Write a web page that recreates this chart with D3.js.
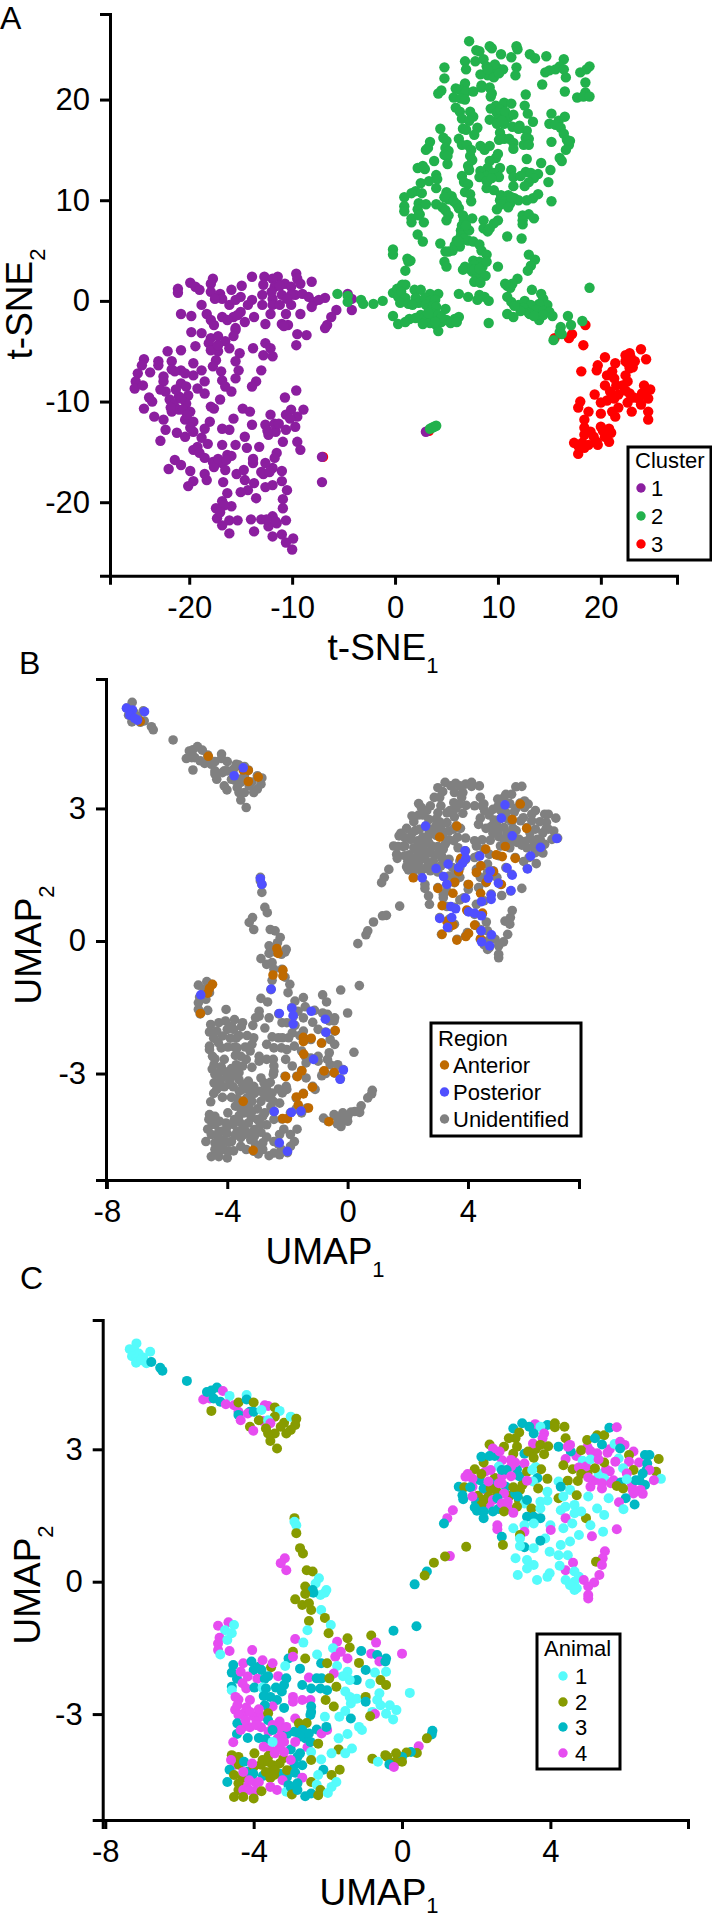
<!DOCTYPE html>
<html>
<head>
<meta charset="utf-8">
<style>
  body { margin: 0; background: #fff; }
  svg { display: block; }
  text { font-family: "Liberation Sans", Arial, sans-serif; fill: #000; }
</style>
<script src="https://cdn.jsdelivr.net/npm/d3@7"></script>
</head>
<body>
<svg id="fig"></svg>
<script>
// values: t-SNE points per cluster
const tsneCluster3 = [[18.5,-2.4],[17.2,-3.3],[16.9,-3.7],[18.3,-4.4],[15.5,-3.7],[20.4,-5.6],[19.7,-6.4],[19.6,-6.9],[18.1,-7],[23.9,-4.8],[22.8,-5.2],[22.4,-5.4],[24.4,-5.8],[22.4,-6],[23.3,-6],[21.4,-6.2],[22.8,-6.7],[21.1,-7],[22.4,-7.4],[20.6,-7.4],[21.3,-7.7],[22.6,-8],[20.4,-8.4],[21.5,-8.4],[24.2,-8.4],[24.8,-8.8],[22.4,-8.9],[20.9,-9],[24.4,-9],[22.8,-9.2],[19.4,-9.3],[23.7,-9.7],[24.6,-9.7],[21.3,-9.7],[20.6,-9.9],[20,-10.1],[22.6,-10.1],[21.7,-10.6],[23.9,-10.3],[24.6,-11],[23,-11],[17.8,-10.6],[18,-10],[18.8,-11],[20,-11.2],[21.1,-11],[21.4,-11.5],[24.6,-11.8],[18.4,-11.8],[18.4,-12.6],[20,-12.5],[20.8,-12.7],[21,-13.1],[18.4,-13.3],[19.3,-13.5],[20.4,-13.5],[17.4,-14.1],[18.2,-14.1],[18.8,-14.3],[19.7,-14.3],[20.8,-14],[17.8,-15.2],[18.4,-14.6],[17.8,-14.4],[3.3,-12.9],[-7,-15.5],[22.9,-5.6],[22.7,-6.3],[23.1,-6.6],[22.1,-8.4],[23.2,-9.6],[24,-9.2],[21.7,-9.3],[19,-13],[19.6,-14],[20.2,-12.9]];

const tsneCluster1 = [[-9.6,2.7],[-9.5,2.2],[-13.9,2.4],[-12.7,2.4],[-11.4,2.4],[-11.9,2.2],[-10.7,1.7],[-9.2,1.7],[-8.1,1.9],[-17.7,2.2],[-17.9,1.7],[-19.9,1.8],[-19.4,1.4],[-21.1,1.2],[-21.1,0.8],[-19,1.1],[-17.9,0.9],[-17,0.7],[-15.9,1.1],[-14.9,1.5],[-16.8,0.2],[-12.9,0.6],[-12.8,1.6],[-11.7,1.4],[-11.2,1.5],[-10.1,1.4],[-9.7,0.6],[-9,0.7],[-8.4,0.4],[-7.9,-0.1],[-6.8,0.3],[-7.4,0.1],[-4.6,0.7],[-4.2,0.2],[-4.2,-0.9],[-5.7,-0.9],[-6.2,-1.6],[-6.6,-2.4],[-6.8,-2.7],[-11,0.6],[-11.9,0.2],[-10.1,0.6],[-15,0.4],[-13.9,0.1],[-14.3,-0.4],[-16.1,-0.4],[-11.9,-0.4],[-11.2,-0.4],[-12.1,-1.3],[-10.1,-0.4],[-10.6,-1.3],[-9.2,-1.3],[-8.1,-0.6],[-18.8,-0.4],[-20.8,-1.3],[-19.8,-1.5],[-18.3,-1.3],[-17.9,-1.9],[-16.8,-1.6],[-15.7,-1.6],[-15,-1.1],[-13.7,-1.6],[-14.6,-2.1],[-12.6,-2.3],[-11,-2.3],[-10.4,-2.4],[-17.6,-2.4],[-15.5,-2.7],[-15.5,-2.9],[-15.7,-3.5],[-19.8,-3.1],[-18.8,-3.2],[-17.9,-3.7],[-17.2,-3.5],[-16.5,-4],[-16.1,-4.7],[-17.2,-5],[-17.4,-5.9],[-18.1,-4.2],[-9.5,-3.3],[-8.6,-3.4],[-9.6,-4.4],[-10.8,-2.5],[-12.6,-4.2],[-13.8,-4.7],[-12.1,-4.7],[-12.8,-5.4],[-11.9,-5.5],[-15.1,-5.2],[-15.5,-6],[-15.2,-6.9],[-15.5,-7.7],[-13,-6.9],[-13.5,-8],[-13.9,-8.5],[-19.4,-4.5],[-20.8,-4.9],[-22.1,-5],[-24.4,-5.8],[-24.6,-6.4],[-23,-6],[-23,-6.4],[-23.8,-7.1],[-25,-7.2],[-25.2,-8],[-25.3,-8.7],[-24.5,-8.4],[-21.7,-6],[-21.7,-6.8],[-20.8,-6.9],[-19.6,-6.2],[-19.6,-7.4],[-18.8,-6.9],[-18.5,-8],[-17.7,-6.5],[-16.9,-7],[-16.8,-7.9],[-15.9,-9],[-16.5,-8.5],[-22.5,-8],[-20.8,-8.2],[-20.3,-8.5],[-19.2,-8.7],[-18.5,-9.2],[-23.9,-9.6],[-23.6,-10],[-24.4,-10.7],[-22.3,-9],[-21.9,-9.8],[-21,-9.5],[-20.1,-9.4],[-21.5,-10.3],[-20.3,-10.2],[-21.7,-11],[-21,-10.8],[-19.9,-11],[-23.4,-11.5],[-22.5,-11.8],[-22.3,-12.8],[-20.4,-11.8],[-19.6,-12],[-21.2,-13.1],[-20.4,-13.5],[-19.6,-13],[-22.8,-13.9],[-17.9,-10.5],[-17,-9.8],[-17.6,-10.7],[-18,-12],[-18.5,-12.7],[-16.8,-12.7],[-16.1,-12.8],[-15.7,-11.7],[-14.8,-10.7],[-14.1,-11],[-13.9,-12.3],[-14.6,-13.5],[-15.5,-14.3],[-14.4,-14.6],[-16.8,-14.3],[-18.8,-13.6],[-19.2,-14.5],[-19.6,-14.8],[-19,-15.1],[-18.5,-15.6],[-17.7,-16],[-16.8,-16.1],[-16.3,-15.3],[-15.9,-15.4],[-16.5,-16.8],[-15.4,-17.2],[-17.6,-16.5],[-18.5,-17.2],[-18.3,-17.8],[-19.9,-16.9],[-21.4,-15.8],[-20.8,-16.3],[-22,-16.7],[-19.6,-17.9],[-20.1,-18.4],[-16.7,-18],[-14.6,-17.8],[-14.7,-16.8],[-13.7,-18.1],[-14.3,-18.8],[-15,-19],[-16.3,-19.1],[-13.5,-19.6],[-16.8,-19.9],[-15.9,-20.4],[-17.4,-20.6],[-17.3,-21.6],[-16.8,-22.3],[-16.1,-23.1],[-16.1,-21.8],[-15.3,-21.8],[-14,-21.7],[-13,-21.7],[-11.9,-21.4],[-11.5,-22.1],[-10.6,-21.8],[-12.3,-22.4],[-13.7,-22.9],[-11.9,-23.4],[-11,-23.2],[-9.9,-23.6],[-10.6,-24],[-10,-24.7],[-10.9,-20.6],[-10.9,-19.7],[-10.5,-18.8],[-11,-17.9],[-11.9,-18.3],[-12.6,-18.5],[-11,-16.9],[-11.9,-16.6],[-12.8,-17.2],[-13.8,-16.1],[-12.6,-16.1],[-11.5,-15.1],[-13.8,-15.7],[-11.7,-15.6],[-13.2,-14.5],[-12.3,-13.3],[-11.6,-13],[-12.6,-12.3],[-12.1,-11.3],[-11.7,-12.2],[-10.9,-14],[-10.6,-12.8],[-9.7,-12.5],[-10.6,-11.3],[-10.1,-10.8],[-9.5,-11.5],[-8.9,-10.8],[-10.7,-9.6],[-9.6,-8.9],[-9.5,-14],[-9.2,-14.8],[-7.1,-15.5],[-7.1,-18],[3,-13],
[-21.3,-8.8],[-20.8,-9.7],[-20.6,-10.8],[-20.2,-11.3],[-19.9,-12.6],[-18.2,-14.2],[-17.2,-15.7],[-16.4,-15.8],[-17.9,-4.9],[-17.2,-4.4],[-12.4,-12.9],[-11.3,-12.2],[-10.2,-11.7],[-12.9,-0.4],[-12,0.9],[-10.5,0.2],[-15.5,0.1],[-17.5,0.2],[-16.3,-1.9],[-15.3,-1.4],[-13,-17],[-12.2,-17],[-11.6,-21.9],[-12.5,-21.7],[-16.6,-20.3],[-17,-21],[-22.8,-8.8],[-22.5,-7.5],[-21.4,-7],[-20.4,-7.2],[-21.8,-10.6]];

const tsneCluster2 = [[7.2,25.8],[7.9,24.9],[8.2,24.8],[9.2,25.3],[9.4,25.1],[11.8,25.3],[11.9,25],[13.1,24.5],[13.6,24.1],[14.7,24.3],[10.3,24.5],[11.3,24.2],[6.8,23.8],[7.8,23.8],[8.6,24],[4.8,23.2],[6.9,23],[8.9,23.3],[9.4,22.8],[10,23.1],[10.5,23],[9,22.4],[8.3,22.5],[9.6,22.2],[8.4,21.4],[11.8,23.2],[11.7,22.4],[16.4,24],[16,23.3],[15.6,23],[15,22.9],[14.6,22.7],[16.4,23],[16.6,22.2],[18.9,23.3],[18.6,23],[18,22.7],[18.5,21.7],[4.8,22.1],[14.3,21.5],[6.8,21.6],[6.3,21],[5.9,21.1],[4.5,20.9],[4.2,20.6],[6.9,20.8],[7.6,20.8],[8.4,21.2],[9.2,21.2],[9.4,20.6],[9.3,20.3],[16.5,20.8],[18.5,20.7],[17.7,20.2],[18.3,20.3],[18.9,20.3],[5.7,20.2],[6.4,20.1],[6.8,20],[12.7,20.5],[9.8,19.4],[10.6,19.7],[11.3,19.6],[12.6,19.4],[5.9,19.2],[6.3,18.8],[7.3,18.8],[7.6,18.3],[6.5,18.1],[7.2,17.9],[9.3,19.1],[9.9,18.7],[10.3,18.4],[10.5,18.1],[10,18],[11,18.2],[9.2,18],[12.9,18.6],[9.9,17.6],[10.6,17.6],[11.4,17.3],[12.1,17.4],[12,17.1],[13.4,17.8],[15.2,18.6],[15.9,17.9],[16.5,18.3],[15,17.6],[15.6,17.5],[16.1,17.2],[16.4,16.6],[16.7,16],[17,15.9],[16.9,15.5],[16.6,15],[4.4,17.1],[6.6,17.1],[6.9,17],[8,17.2],[7.7,16.5],[10.2,16.7],[12.8,16.9],[10.1,16],[10.6,16.1],[11.1,16.1],[11.5,15.7],[12.7,16.2],[13,16.1],[12.5,15.5],[13,15.5],[15.2,15.8],[4.7,16.2],[5,15.9],[6.2,16.1],[6.5,15.5],[3.4,15.8],[3.2,15.2],[3,15],[4.9,15.2],[5.2,14.9],[7,15.5],[7.4,15],[8.3,15.4],[8.7,15],[9.2,15.4],[11.5,15.1],[4.8,14.5],[5.1,14.4],[7.3,14.4],[7.5,14],[3.8,13.9],[5.1,13.6],[9.8,14.2],[10,14.6],[9.2,13.9],[12.8,14.1],[16,14.2],[16.2,13.9],[14.2,13.7],[2.2,13.2],[2.7,13.4],[2.9,13.1],[7.1,13.4],[7.2,13],[9,13.2],[10.2,13.2],[15.1,13],[8.3,12.9],[8.9,12.4],[9.6,12.7],[10.1,12.3],[11.3,13],[12.7,12.8],[13.2,12.7],[13.9,12.6],[4,12.5],[4.1,12.1],[6.5,12.4],[8.2,12.3],[9,11.9],[11.5,12.3],[12.2,12.4],[13.5,12.2],[13,11.8],[3.3,11.9],[2.5,11.7],[6.7,11.8],[7.1,11.6],[8.9,11.2],[9.6,11],[11.5,11.4],[12.6,11.4],[14.9,11.8],[4,11.2],[2,10.9],[2.6,10.7],[0.9,10.3],[1.6,10.7],[6.8,10.8],[7.3,10.6],[5,10.8],[5.5,10.4],[5.2,10.1],[4.8,10.3],[5.7,9.9],[7.4,9.9],[10.3,10.5],[11,10.5],[11.6,10.2],[10.2,10],[10.6,9.9],[11.2,9.7],[12,10],[13.4,10.2],[13.9,10.6],[12.8,10],[15.2,9.9],[2.3,9.7],[3,9.6],[0.9,9.4],[0.9,8.9],[2.2,9.1],[2.4,8.6],[4,9.6],[4.6,9.3],[4.9,9],[6,9.6],[6.2,9.2],[9.9,9.1],[10.3,9.6],[12.4,8.5],[13,8.6],[13.5,8.2],[1.6,8.2],[2.3,8.5],[1.6,7.8],[2.8,7.8],[5.2,8.5],[5,8],[6.6,8.5],[6.7,8],[7.5,8.2],[8.6,8],[10,8],[9.6,7.7],[12.4,8],[12.4,7.6],[6.5,7.5],[6.4,7],[8.6,7.2],[9,6.9],[9.2,7.2],[6.7,6.9],[7.2,7],[6.4,6.5],[2.2,6.6],[2.7,5.9],[6,6],[6.6,6.1],[7.1,6],[7.6,5.9],[10.9,6.4],[12.3,6.2],[4.4,5.7],[5.8,5.5],[6.3,5.4],[8.2,5.6],[-0.2,5.1],[-0.2,4.6],[5.6,5],[5.2,4.9],[4.9,4.9],[8.4,5],[8.9,4.6],[7.6,4],[1.2,4.2],[1.5,4],[4.8,3.9],[13,4.6],[13.6,4.1],[8.2,3.9],[7.7,3.6],[8.5,3.4],[8.9,3.9],[5,3.4],[1.3,3.9],[1,3],[10,3.4],[6.8,3.4],[7.2,3.2],[6.6,3.1],[13.2,3.5],[12.9,3],[7.5,2.9],[8,2.7],[7.9,2.2],[8.8,2.5],[7.7,1.9],[8.3,1.8],[11.9,2.2],[11.4,1.7],[1,1.6],[0.5,1.3],[0.2,0.9],[10.9,1.5],[11.2,1.3],[18.9,1.3],[-0.2,0.8],[0.2,1.2],[0.7,1.6],[0.3,0.4],[0.6,0.9],[1,0.3],[0.5,-0.2],[1.3,-0.3],[1.9,1.1],[2.5,1.1],[2,0.3],[2.3,-0.2],[1.7,-0.4],[3.4,0.7],[4.2,0.7],[2.9,0.3],[3.4,0],[3,-0.4],[3.9,0.1],[3.3,-0.7],[3.7,-0.5],[4,-0.6],[4.9,-0.8],[6.2,0.7],[7.1,0.4],[8.2,0.6],[8.7,0.4],[8,0.1],[9.1,0],[10.7,1.7],[10.9,0.4],[11.3,-0.1],[12,-0.4],[12.6,0],[13.3,1.1],[14.2,0.7],[14.4,0.2],[14.8,-0.4],[14,-0.3],[13.2,-0.4],[12.5,-0.7],[13.7,-0.9],[14.4,-1],[15,-1.1],[13,-1.2],[12.2,-1],[11.6,-0.5],[10.9,-1.3],[11.5,-1.6],[13.1,-1.3],[14,-1.9],[14.4,-1.4],[13.5,-1.5],[15.3,-1.5],[16.8,-1.5],[18.2,-2],[16.1,-2.6],[17.1,-2.4],[-0.2,-1.5],[0.3,-2.3],[1.4,-1.8],[2.5,-1.4],[2,-1.7],[2.9,-1.6],[3.5,-1.8],[3,-2],[3.4,-2.2],[4,-2.4],[4.5,-2.1],[3.9,-1.7],[3.6,-1.2],[4.2,-1.4],[5,-1.9],[5.8,-1.8],[6.2,-1.6],[5.4,-2.2],[6,-2.1],[2.7,-2.3],[1,-2.1],[4.2,-3],[9.1,-2.2],[16,-3.1],[16.2,-3.3],[15.4,-3.9],[-5.6,0.7],[-4.6,0.5],[-4.6,-0.1],[-3.3,0.1],[-3.1,-0.3],[-2.1,-0.3],[-1.2,0],[3.4,-12.7],[3.6,-12.6],[3.8,-12.5],[4,-12.4],
[9.7,23.5],[10.1,22.6],[9,23],[10.2,19],[10.7,18.8],[10.4,17.9],[11.5,18.5],[6.9,7.5],[6.7,6.2],[6.2,5.9],[8.9,11.9],[9.4,12.2],[11,9.3],[11.3,10.3],[4.5,-1.6],[3.2,-1.2],[3.9,-2.1],[7.7,3.1],[8.2,3.2]];

// UMAP cells as [UMAP1, UMAP2, animal]
const umapCells = [[-7.16,5.4,1],[-7.34,5.27,1],[-7.22,5.25,1],[-7.1,5.17,1],[-7.28,5.11,1],[-7.16,5.06,1],[-6.98,5.08,1],[-6.79,5.21,1],[-6.89,4.95,1],[-7.17,4.96,1],[-7.03,5.02,1],[-6.76,4.98,3],[-6.52,4.85,3],[-6.46,4.78,3],[-5.8,4.55,3],
[-5.36,4.13,4],[-5.18,4.15,4],[-5.26,4.3,3],[-5.14,4.33,3],[-4.99,4.4,3],[-4.83,4.32,4],[-5.08,4.15,3],[-4.9,4.08,3],[-4.65,4.21,1],[-5.14,3.87,2],[-4.75,4.02,4],[-4.53,4,4],[-4.41,3.85,4],[-4.41,3.78,3],[-4.35,3.66,4],[-4.41,4.06,2],[-4.19,4.23,1],[-4.19,4.13,3],[-4,4.06,2],[-4.1,3.85,3],[-4.16,3.81,4],[-4,3.85,3],[-4.1,3.51,2],[-4.01,3.42,4],[-3.7,4,4],[-3.61,3.98,4],[-3.79,3.89,1],[-3.76,3.64,4],[-3.86,3.66,2],[-3.43,3.95,2],[-3.3,3.87,1],[-3.43,3.74,2],[-3.61,3.66,1],[-3.55,3.59,4],[-3.18,3.6,2],[-3,3.74,1],[-2.85,3.69,2],[-2.88,3.55,2],[-3,3.44,2],[-3.12,3.36,2],[-3.27,3.51,2],[-3.43,3.36,2],[-3.61,3.36,2],[-3.55,3.19,2],[-3.37,3.02,2],[-3.67,3.47,2],
[1.9,2.15,4],[2.1,2.3,3],[2.25,2.5,4],[2.5,2.35,2],[2.7,2.4,4],[2.45,2.2,3],[2.55,2.05,2],[2.8,2.15,3],[2.9,1.95,2],[2.3,2.05,4],[2.05,1.95,2],[2,1.8,3],[2.35,1.75,4],[2.6,1.65,3],[2.9,1.65,4],[3.15,1.85,2],[3.05,2,3],[3.25,2.2,2],[3.1,2.55,3],[3.05,2.7,4],[3.3,2.9,3],[3,2.9,2],[2.7,2.75,4],[2.5,2.85,3],[3.6,2.6,1],[3.65,2.35,3],[3.75,2.55,2],[3.6,3,2],[5.6,2.5,4],[5.7,2.3,4],[5.9,2.25,3],[5.2,2.3,4],[4.6,2.55,2],[5,2.45,2],[5.3,2.45,1],[5.5,2.55,4],[6.2,2.2,4],[6.4,2.3,3],[6.6,2.55,3],[5.6,3,4],[5,3.05,4],[4.7,2.85,4],[4.55,2.95,3],
[3.24,3.59,3],[3,3.47,3],[3.59,3.57,4],[3.43,3.51,3],[3.92,3.55,3],[4.12,3.59,2],[4.12,3.5,2],[4.38,3.51,2],[3.73,3.51,1],[3.55,3.36,3],[3.83,3.36,4],[3.79,3.25,4],[3.16,3.38,2],[3.06,3.25,2],[2.88,3.25,2],[2.75,3.06,2],[3.1,3.06,2],[2.36,3.11,2],[2.63,2.95,4],[2.45,3.02,4],[3.53,3.13,4],[3.73,3.1,2],[3.94,3.07,2],[4.22,3.06,3],[4.41,3.25,2],[4.53,3.1,4],[4.47,3.06,4],[4.83,2.98,2],[4.99,3.21,2],[5.26,3.32,2],[5.45,3.32,2],[5.59,3.49,3],[5.79,3.5,4],[5.2,3.25,3],[5.39,3.11,3],[5.73,3.12,1],[5.88,3.17,4],[6,3.1,4],[5.88,3.02,3],[5.08,2.96,4],[5.26,2.91,4],[5.54,2.92,4],[6.24,2.95,4],[6.12,2.87,2],[5.84,2.79,1],[5.75,2.72,4],[6.55,2.87,3],[6.67,2.87,3],[6.92,2.78,2],[6.12,2.72,4],[6.39,2.7,4],[6.61,2.68,3],[6.24,2.53,2],[5.96,2.57,1],[6.85,2.49,2],[6.67,2.53,4],[6.49,2.45,3],[6.98,2.33,1],[6.79,2.3,4],[6.55,2.19,3],[6.3,2.3,3],[6.06,2.45,4],[6.06,2.32,1],
[4.41,2.78,4],[4.35,2.64,2],[4.87,2.74,1],[4.77,2.59,4],[4.96,2.61,4],[5.2,2.57,2],[5.45,2.7,2],[5.08,2.77,1],[5.3,2.77,4],[3.4,2.95,2],[3.55,2.81,2],[3.83,2.89,2],[3.3,2.68,4],[2.94,2.76,4],[2.94,2.61,4],[2.61,2.61,1],[2.2,2.7,2],[2.14,2.83,3],[2.36,2.85,3],[1.96,2.55,2],[2.39,2.53,4],[2.69,2.53,3],[2.82,2.53,3],[1.77,2.44,4],[2.14,2.44,2],[1.9,2.34,4],[1.71,2.38,4],[3.16,2.39,3],[3.37,2.49,2],[2.94,2.39,4],[3.51,2.53,1],[3.92,2.33,2],[3.53,2.27,1],[3.37,2.29,4],[4.22,2.27,1],[4.47,2.29,2],[4.74,2.28,2],[4.83,2.44,2],[5.02,2.36,4],[5.45,2.34,1],[5.39,2.23,4],[5.63,2.23,4],[5.79,2.17,2],[5.96,2.11,2],[5.39,2.11,4],[5.08,2.15,4],[5.57,1.89,1],[6.22,2.08,4],[6.43,2.08,4],[6.49,1.99,4],[6.24,2,4],[6.03,1.89,3],[5.85,1.8,4],[6.27,1.75,3],[5.97,1.64,1],
[1.53,2.15,3],[1.68,2.14,2],[1.84,2.14,3],[1.63,1.96,3],[1.65,1.87,3],[1.9,1.93,4],[2.2,2.11,3],[2.39,2.11,2],[2.61,2.23,4],[2.69,2.23,4],[2.33,2.27,4],[3,2.14,2],[3.18,2.08,2],[3.12,1.93,3],[2.75,2,4],[2.33,1.93,2],[2.2,1.85,2],[2.14,1.74,2],[1.96,1.68,3],[2.02,1.61,3],[2.45,1.85,4],[2.57,1.89,3],[2.69,1.77,4],[2.85,1.81,4],[3.67,2.11,2],[3.92,2.04,1],[4.22,1.89,2],[4.35,1.93,1],[4.53,2.08,1],[4.28,2.15,3],[4.71,1.96,2],[5.02,1.93,1],[3.73,1.81,1],[3.3,1.77,1],[3.37,1.85,3],[3.1,1.7,2],[3.49,1.66,2],[3.92,1.84,1],[3.73,1.66,1],[2.2,1.59,3],[2.45,1.59,3],[2.2,1.44,3],[2.75,1.59,2],[3,1.56,4],[2.57,1.28,4],[2.57,1.19,4],[2.69,1.02,3],[2.72,0.83,2],[3,1.21,1],[3.37,1.47,3],[3.55,1.47,3],[3.73,1.44,3],[3.3,1.28,1],[3.55,1.32,1],[3.3,1.13,4],[3.18,1.06,2],[4,1.28,1],[4.01,1.17,4],[3.18,0.98,1],[3.86,0.98,1],[3.73,0.93,3],[3.3,0.78,3],[3.18,0.81,1],[3.55,0.76,1],[4.28,1.62,1],[4.41,1.7,1],[4.65,1.74,1],[4.41,1.44,4],[4.65,1.55,1],[4.35,1.21,1],[4.96,1.44,2],[4.83,1.59,1],[4.59,1.32,1],[5.08,1.28,1],[5.26,1.66,1],[5.45,1.51,1],[5.42,1.13,1],[5.79,1.19,4],[5.12,1.03,4],[4.77,1.06,1],[4.53,0.91,1],[4.28,0.83,1],[3.98,0.68,1],[4.22,0.6,1],[4.47,0.6,1],[5.47,0.69,4],[5.41,0.53,4],[5.23,0.45,2],[5.39,0.38,4],[4.61,0.43,4],[4.41,0.26,4],[4.25,0.36,1],[3.06,0.53,1],[3.37,0.49,1],[3.55,0.38,1],[3.37,0.3,1],[3.12,0.15,1],[3.98,0.19,1],[3.64,0.04,1],[3.92,0.11,1],[4.65,0.23,1],[4.77,0.11,1],[4.41,0.04,1],[4.65,0,1],[4.53,-0.08,1],[4.9,0.04,4],[5.32,0.15,4],[5.18,-0.02,4],[4.71,-0.15,1],[5.02,-0.11,4],[4.65,-0.19,1],[5.02,-0.3,4],[5.02,-0.38,4],
[1.37,1.62,4],[1.22,1.44,4],[1.13,1.32,3],[1.73,0.79,2],[1.29,0.58,4],[1.16,0.57,2],[0.86,0.43,2],[0.67,0.23,3],[0.61,0.14,2],[0.34,-0.06,3],
[-2.9,1.44,2],[-2.9,1.36,1],[-2.85,1.28,1],[-2.85,1.1,2],[-2.75,0.76,2],[-2.67,0.64,2],[-3.16,0.53,4],[-3.27,0.42,4],[-3.12,0.26,4],[-2.57,0.26,2],[-2.41,0.23,2],[-2.24,0.08,1],[-2.33,-0.04,1],[-2.61,-0.11,2],[-2.04,-0.19,1],[-2.41,-0.19,3],[-2.08,-0.25,1],[-2.2,-0.3,1],[-2.39,-0.25,3],[-2.61,-0.28,2],[-2.88,-0.4,2],[-2.69,-0.53,2],[-2.51,-0.49,2],[-2.45,-0.64,2],[-2.18,-0.64,1],[-2.08,-0.82,2],[-1.92,-0.98,1],[-2.51,-0.89,2],[-2.55,-1.1,1],[-1.98,-1.17,2],[-2.88,-1.3,4],[-2.66,-1.38,1],[-1.47,-1.28,2],[-1.75,-1.36,4],[-1.41,-1.49,2],[-1.86,-1.51,1],[-0.83,-1.22,2],[-0.7,-1.38,4],[-0.23,-1.11,3],[0.39,-1.01,3],
[-4.96,-1,4],[-4.68,-0.92,4],[-4.53,-0.98,1],[-4.77,-1.1,1],[-4.59,-1.17,1],[-4.92,-1.27,4],[-4.71,-1.32,1],[-4.96,-1.4,4],[-4.96,-1.55,4],[-4.65,-1.57,4],[-4.9,-1.65,1],[-4.04,-1.55,4],[0,-1.63,4],
[-4.45,-2.2,3],[-4.3,-2.3,4],[-4,-2,3],[-3.9,-2.2,4],[-3.7,-2.2,3],[-3.4,-2.4,3],[-4.5,-2.9,4],[-4.3,-3,4],[-4.2,-2.85,4],[-4,-3.05,4],[-3.8,-3.05,4],[-4.3,-3.3,4],[-4.1,-3.3,4],[-4.45,-3.45,3],[-3.8,-3.3,4],[-3.6,-3.4,4],[-3.3,-3.35,4],[-3.35,-3.55,4],[-3.1,-3.45,3],[-3.3,-3.75,4],[-3.55,-3.8,4],[-3,-3.8,3],[-2.9,-3.4,3],[-2.6,-3.55,3],[-2.3,-3.35,3],[-2.55,-3.75,4],[-4.5,-4.15,4],[-4.3,-4.45,2],[-4.15,-4.3,3],[-3.95,-4.55,4],[-3.75,-4.4,3],[-3.55,-4.45,2],[-4.4,-4.15,2],[-4.2,-4.65,4],[-3.95,-4.75,4],[-3.3,-4.35,3],[-3.1,-4.42,3],[-2.9,-4.15,3],[-4,-4.2,2],[-3.8,-4.15,2],[-3.6,-3.95,2],[-3.2,-4,2],
[-2.94,-1.59,2],[-3.06,-1.74,3],[-2.94,-1.7,4],[-2.61,-1.74,2],[-2.29,-1.65,1],[-2.18,-1.85,3],[-2.02,-1.85,2],[-1.8,-1.7,4],[-1.65,-1.59,4],[-1.47,-1.74,4],[-1.1,-1.57,3],[-1.16,-1.84,2],[-0.83,-1.63,4],[-0.67,-1.66,3],[-0.43,-1.74,3],[-0.61,-1.81,4],[-0.45,-1.81,3],[-0.73,-2.06,1],[-0.98,-2,3],[-0.43,-2.04,1],[-0.58,-2.23,2],[-0.43,-2.34,2],[-1.75,-1.91,1],[-1.47,-2.04,1],[-1.59,-2.14,1],[-1.22,-2.23,3],[-1.41,-2.23,1],[-0.86,-2.31,1],[-1.77,-2.38,2],[-1.84,-2.08,4],
[-4.55,-1.89,3],[-4.59,-2.06,3],[-4.28,-1.85,4],[-4.35,-2.04,4],[-4.16,-2.15,4],[-4.06,-1.81,3],[-3.86,-1.93,3],[-3.76,-1.78,4],[-3.53,-1.94,2],[-3.49,-1.85,4],[-3.61,-2.14,3],[-3.79,-2,3],[-3.34,-2.14,4],[-3.15,-1.91,1],[-2.75,-1.97,3],[-3.12,-2.19,3],[-3.18,-2.34,3],[-2.69,-2.34,3],[-2.51,-2.17,4],[-2.3,-2.19,3],[-2.45,-2.42,3],[-2.17,-2.19,3],[-1.96,-2.19,2],[-2.2,-2.42,3],[-2.02,-2.46,3],[-4.59,-2.38,3],[-4.59,-2.46,1],[-4.49,-2.61,4],[-4.2,-2.42,4],[-3.98,-2.4,3],[-3.76,-2.4,1],[-3.67,-2.42,3],[-3.73,-2.59,3],[-3.55,-2.61,3],[-3.24,-2.49,3],[-3.37,-2.68,3],[-4.41,-2.67,4],[-4.1,-2.68,4],[-4.44,-2.8,4],[-2.94,-2.61,4],[-2.94,-2.72,4],[-2.69,-2.68,4],[-2.47,-2.68,4],[-3.49,-2.83,4],[-3.7,-2.8,3],[-3.18,-2.86,3],[-2.45,-2.83,3],[-2.45,-2.95,3],[-2.06,-2.68,2],[-1.84,-2.83,2],[-1.53,-2.49,1],[-1.41,-2.61,1],[-1.38,-2.76,1],[-1.22,-2.65,1],[-0.98,-2.61,2],[-0.98,-2.72,3],[-0.61,-2.53,1],[-0.67,-2.68,1],[-0.58,-2.8,1],[-0.33,-2.8,1],[-0.15,-2.91,1],[-0.43,-2.99,1],[-0.8,-2.95,1],[-0.73,-3,4],[-0.86,-3.05,2],[-0.24,-3.12,1],[0.21,-2.52,1],[-1.53,-2.93,1],[-1.69,-3.06,1],[-1.38,-3.1,3],[-1.16,-3.29,1],[-1.08,-3.36,1],[-2.08,-3.06,1],[-2.47,-3.02,3],
[-4.41,-3.02,4],[-4.1,-2.95,4],[-3.86,-2.89,4],[-3.61,-2.98,2],[-3.61,-3.14,3],[-4.44,-3.21,3],[-4.22,-3.14,4],[-3.92,-3.17,4],[-3.92,-3.25,4],[-2.88,-3.1,4],[-2.78,-3.21,2],[-2.57,-3.2,2],[-3.3,-3.17,4],[-3.12,-3.29,4],[-3.49,-3.25,4],[-4.35,-3.36,4],[-4.16,-3.54,3],[-3.86,-3.54,3],[-3.67,-3.57,3],[-3.49,-3.36,3],[-3.24,-3.51,4],[-2.69,-3.36,3],[-2.51,-3.44,3],[-2.75,-3.51,3],[-2.47,-3.63,3],[-2.26,-3.67,2],[-2.17,-3.44,4],[-2.02,-3.36,4],[-2.04,-3.29,3],[-1.71,-3.55,1],[-1.47,-3.45,1],[-1.71,-3.8,2],[-1.35,-3.78,1],[-1.53,-3.89,1],[-1.9,-3.89,1],[-4.55,-3.64,4],[-3.73,-3.74,4],[-3.49,-3.63,1],[-3.18,-3.63,4],[-2.88,-3.63,4],[-3.43,-3.89,4],[-3.18,-3.86,4],[-2.75,-3.89,3],[-2.82,-3.97,3],[-3.98,-3.89,2],[-2.45,-3.86,1],
[-4.59,-3.93,2],[-4.41,-3.97,2],[-4.61,-4.04,4],[-4.26,-4.08,3],[-4.04,-4.12,4],[-3.76,-4.04,2],[-3.61,-4.08,2],[-3.49,-4.16,2],[-3.3,-4.12,2],[-3,-4.04,4],[-2.69,-4.16,3],[-2.45,-4.04,2],[-2.18,-4.03,1],[-3.1,-4.27,2],[-2.88,-4.33,3],[-3.43,-4.27,2],[-3.67,-4.31,2],[-4.01,-4.35,3],[-4.28,-4.31,4],[-4.65,-4.26,3],[-4.53,-4.38,2],[-3.45,-4.38,2],[-2.69,-4.44,4],[-2.12,-4.26,3],[-1.9,-4.38,2],[-1.68,-4.26,2],[-2.26,-4.38,1],[-4.71,-4.54,3],[-4.41,-4.57,2],[-4.12,-4.5,4],[-3.86,-4.54,4],[-3.22,-4.5,4],[-2.82,-4.57,3],[-3.06,-4.61,3],[-2.45,-4.54,2],[-2.3,-4.6,1],[-1.77,-4.54,1],[-1.9,-4.65,1],[-3.55,-4.65,4],[-3.37,-4.72,4],[-3.79,-4.75,2],[-3.12,-4.76,1],[-3,-4.65,3],[-4.41,-4.72,2],[-4.28,-4.72,4],[-4.12,-4.72,4],[-4.53,-4.88,2],[-4.28,-4.88,2],[-4,-4.91,2],[-2.97,-4.82,2],[-2.82,-4.72,3],[-2.61,-4.86,3],[-2.45,-4.8,3],[-2.26,-4.84,2],[-2.2,-4.72,2],[-2,-4.79,1],
[0.82,-3.38,3],[0.8,-3.46,3],[0.67,-3.55,2],[0.45,-3.73,4],[0.4,-3.88,2],[0.24,-3.86,3],[0.12,-3.87,2],[0,-3.97,3],[-0.16,-3.89,2],[-0.4,-3.97,2],[-0.8,-4.01,2],[-0.65,-4.08,1],[-0.45,-3.93,2],[0,-4.08,2],[-0.18,-4.08,2],[-0.34,-4.14,3],[-0.22,-4.2,4]];

// cells with an identified region, drawn over the grey ones in panel B
const umapAnterior = [[-6.89,4.97],[-4.63,4.18],[-3.47,3.87],[-3.3,3.86],[-2.97,3.71],[-3.3,3.61],[3.63,2.6],[3.06,2.35],[5.74,3.1],[5.47,2.75],[5.95,2.55],[4.59,2.08],[5.24,2.14],[4.94,1.95],[5.14,1.91],[5.57,1.87],[3.76,1.87],[4.43,1.7],[4.28,1.55],[4.85,1.57],[2.18,1.43],[3.56,1.33],[3.69,1.57],[4.02,1.28],[4.61,1.33],[5.11,1.28],[3,1.19],[3.5,1.08],[4.42,1.08],[3.14,0.8],[3.96,0.7],[4.48,0.63],[3.3,0.44],[3.5,0.36],[4.22,0.36],[3.14,0.15],[3.63,0.02],[3.93,0.1],[4.02,0.17],[4.42,0.05],[-2.35,-0.17],[-2.31,-0.28],[-2.15,-0.66],[-2.15,-0.79],[-2.48,-0.77],[-4.49,-0.98],[-4.59,-1.07],[-4.65,-1.18],[-4.89,-1.64],[-0.41,-2.03],[-1.47,-2.18],[-1.21,-2.2],[-1.47,-2.28],[-0.87,-2.31],[-1.46,-2.56],[-1.52,-2.94],[-1.67,-3.07],[-2.06,-3.07],[-0.78,-2.94],[-0.45,-2.98],[-1.17,-3.31],[-1.47,-3.46],[-1.7,-3.53],[-3.47,-3.63],[-1.64,-3.71],[-1.3,-3.78],[-2.16,-4.02],[-2,-4.02],[-0.62,-4.09],[-3.14,-4.74]];
const umapPosterior = [[-7.35,5.27],[-7.15,5.23],[-6.75,5.19],[-7.24,5.11],[-6.98,5],[-7.08,5.04],[-3.77,3.74],[-3.47,3.92],[2.59,2.6],[5.23,3.08],[5.11,2.78],[5.47,2.38],[6.95,2.32],[6.41,2.12],[6.08,1.92],[5.98,1.63],[4.39,1.92],[3.9,2.04],[3.93,1.87],[3.82,1.76],[3.69,1.66],[3.34,1.74],[2.94,1.64],[2.48,1.43],[3.19,1.46],[3.3,1.28],[4.74,1.58],[4.68,1.42],[5.3,1.65],[5.47,1.49],[5.01,1.31],[5.43,1.14],[4.77,1.04],[4.77,0.94],[4.45,0.89],[3.92,0.97],[3.43,0.78],[3.59,0.73],[4.02,0.66],[4.22,0.63],[4.45,0.57],[3.06,0.51],[3.46,0.53],[3.32,0.31],[4.44,0.23],[4.78,0.14],[4.45,-0.02],[4.72,-0.11],[-2.9,1.41],[-2.85,1.28],[-2.54,-1.09],[-4.88,-1.22],[-2.27,-1.64],[-1.85,-1.52],[-1.81,-1.69],[-1.81,-1.88],[-1.21,-1.59],[-0.74,-1.77],[-0.72,-2.07],[-1.13,-2.68],[-0.14,-2.92],[-0.25,-3.13],[-2.44,-3.86],[-1.87,-3.88],[-1.55,-3.85],[-2.27,-4.57],[-2,-4.76]];

const tsneTicks = [-20, -10, 0, 10, 20];
const umapXTicks = [-8, -4, 0, 4];
const umapYTicks = [-3, 0, 3];
const clusterLabels = ["1", "2", "3"];
const regionLabels = ["Anterior", "Posterior", "Unidentified"];
const animalLabels = ["1", "2", "3", "4"];

const clusterColors = ["#8b1e9f", "#22b14c", "#ff0000"];
const regionColors = ["#bf6a00", "#4f4fff", "#808080"];
const animalColors = ["#55fbfb", "#879b00", "#00b8c4", "#e64cf0"];

const width = 712, height = 1918;
const svg = d3.select("#fig").attr("width", width).attr("height", height);

// one panel: axes, titles and the letter; returns the scales and the group for the dots
function panel(o) {
  const x = d3.scaleLinear().domain(o.xDomain).range(o.xRange);
  const y = d3.scaleLinear().domain(o.yDomain).range(o.yRange);
  const g = svg.append("g");

  const xAxis = g.append("g")
    .attr("transform", `translate(0,${o.yRange[0]})`)
    .call(d3.axisBottom(x).tickValues(o.xTicks).tickSizeOuter(0).tickSize(9).tickPadding(11).tickFormat(d3.format("d")));
  const yAxis = g.append("g")
    .attr("transform", `translate(${o.xRange[0]},0)`)
    .call(d3.axisLeft(y).tickValues(o.yTicks).tickSizeOuter(0).tickSize(10).tickPadding(10).tickFormat(d3.format("d")));

  [xAxis, yAxis].forEach(a => {
    a.selectAll("path, line").attr("stroke", "#000").attr("stroke-width", 3);
    a.selectAll("text")
      .style("font-family", '"Liberation Sans", Arial, sans-serif')
      .style("font-size", "31px")
      .text(d => String(d).replace("\u2212", "-"));
  });

  const xt = g.append("text")
    .attr("x", o.xTitle[0]).attr("y", o.xTitle[1])
    .attr("text-anchor", "middle").style("font-size", "37px").text(o.xLabel);
  xt.append("tspan").attr("dy", o.subDy || 13).style("font-size", "22px").text("1");

  const yt = g.append("text")
    .attr("transform", `translate(${o.yTitle[0]},${o.yTitle[1]}) rotate(-90)`)
    .attr("text-anchor", "middle").style("font-size", "37px").text(o.yLabel);
  yt.append("tspan").attr("dy", 13).style("font-size", "22px").text("2");

  g.append("text").attr("x", o.letter[0]).attr("y", o.letter[1])
    .style("font-size", "32px").text(o.letter[2]);

  return { x, y, dots: g.append("g") };
}

function drawDots(p, data, color, r) {
  p.dots.selectAll(null)
    .data(data)
    .enter()
    .append("circle")
    .attr("cx", d => p.x(d[0]))
    .attr("cy", d => p.y(d[1]))
    .attr("r", r)
    .attr("fill", typeof color === "function" ? color : () => color);
}

function legend(o) {
  const g = svg.append("g");
  g.append("rect")
    .attr("x", o.box[0]).attr("y", o.box[1]).attr("width", o.box[2]).attr("height", o.box[3])
    .attr("fill", "#fff").attr("stroke", "#000").attr("stroke-width", 3);
  g.append("text").attr("x", o.titleX).attr("y", o.titleY).style("font-size", "22px").text(o.title);
  o.labels.forEach((label, i) => {
    g.append("circle").attr("cx", o.dotX).attr("cy", o.rows[i]).attr("r", 4.7).attr("fill", o.colors[i]);
    g.append("text").attr("x", o.textX).attr("y", o.rows[i] + 8).style("font-size", "22px").text(label);
  });
}

// A: t-SNE by cluster
const a = panel({
  xDomain: [-27.7, 27.4], xRange: [110, 677],
  yDomain: [-27.3, 28.5], yRange: [575.7, 14],
  xTicks: tsneTicks, yTicks: tsneTicks,
  xLabel: "t-SNE", yLabel: "t-SNE",
  xTitle: [383, 660], yTitle: [32, 304], letter: [0, 29, "A"]
});
drawDots(a, tsneCluster3, clusterColors[2], 5.2);
drawDots(a, tsneCluster1, clusterColors[0], 5.2);
drawDots(a, tsneCluster2, clusterColors[1], 5.2);
legend({
  box: [628, 447, 83, 113], title: "Cluster", titleX: 635, titleY: 468,
  labels: clusterLabels, colors: clusterColors, rows: [488, 516, 544], dotX: 641, textX: 651
});

// B: UMAP by region
const b = panel({
  xDomain: [-8.03, 7.69], xRange: [106, 579],
  yDomain: [-5.41, 5.93], yRange: [1180, 679],
  xTicks: umapXTicks, yTicks: umapYTicks,
  xLabel: "UMAP", yLabel: "UMAP",
  xTitle: [325, 1264], yTitle: [41, 945], letter: [19, 674, "B"]
});
drawDots(b, umapCells, regionColors[2], 4.8);
drawDots(b, umapAnterior, regionColors[0], 4.8);
drawDots(b, umapPosterior, regionColors[1], 4.8);
legend({
  box: [431, 1023, 150, 113], title: "Region", titleX: 438, titleY: 1046,
  labels: regionLabels, colors: regionColors, rows: [1065, 1092, 1119], dotX: 444.5, textX: 453
});

// C: UMAP by animal
const c = panel({
  xDomain: [-8.07, 7.71], xRange: [102.7, 688],
  yDomain: [-5.40, 5.93], yRange: [1820, 1320],
  xTicks: umapXTicks, yTicks: umapYTicks,
  xLabel: "UMAP", yLabel: "UMAP", subDy: 8,
  xTitle: [379, 1905], yTitle: [40, 1585], letter: [20, 1289, "C"]
});
drawDots(c, umapCells, d => animalColors[d[2] - 1], 5);
legend({
  box: [537, 1634, 83, 135], title: "Animal", titleX: 544, titleY: 1656,
  labels: animalLabels, colors: animalColors, rows: [1676, 1702, 1727, 1753], dotX: 563, textX: 575
});
</script>
</body>
</html>
